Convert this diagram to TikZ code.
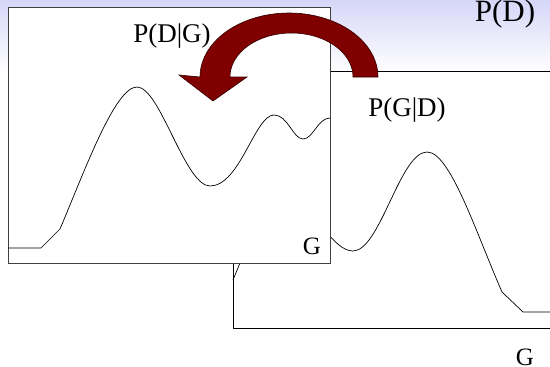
\documentclass[tikz,border=0pt]{standalone}
\usepackage{fontspec}
\setmainfont{Liberation Serif}
\definecolor{bgtop}{RGB}{214,214,248}
\definecolor{darkred}{RGB}{128,0,0}

\begin{document}
\begin{tikzpicture}[
    x=1pt, y=-1pt,
    frame/.style={draw=black!75, fill=white, line width=0.8pt},
    plotline/.style={draw=black, line width=0.7pt, line join=round},
    tag/.style={anchor=base, inner sep=0pt, font=\fontsize{27}{30}\selectfont},
    axislabel/.style={anchor=base, inner sep=0pt, font=\fontsize{25}{28}\selectfont},
    bigarrow/.style={fill=darkred, draw=black!60!darkred, line width=0.6pt, line join=miter}
]
\useasboundingbox (0,0) rectangle (550,367);
\clip (0,0) rectangle (550,367);

% Background
\shade[top color=bgtop, bottom color=white] (0,0) rectangle (550,72);

% Back box: P(G|D)
\draw[frame, draw=black] (233,71) rectangle (560,328);
\draw[plotline] (233,280) -- (240,263)
    .. controls (260,215) and (285,200) .. (300,205)
    .. controls (315,210) and (333,251) .. (353,251)
    .. controls (380,251) and (400,152) .. (427,152)
    .. controls (450,152) and (475,230) .. (502,292)
    -- (523,312) -- (560,312);

% Front box: P(D|G)
\draw[frame] (8,7) rectangle (330,263);
\draw[plotline] (8,248) -- (41,248) -- (60,229)
    .. controls (85,170) and (115,87) .. (137,87)
    .. controls (160,87) and (185,186) .. (210,186)
    .. controls (240,186) and (255,115) .. (274,115)
    .. controls (288,115) and (293,139) .. (303,139)
    .. controls (313,139) and (318,118) .. (330,118);

% Labels
\node[tag, font=\fontsize{31}{34}\selectfont] (pd) at (505,21) {P(D)};
\node[tag] (pdg) at (172,42) {P(D|G)};
\node[tag] (pgd) at (407,116) {P(G|D)};
\node[axislabel] (gfront) at (312,254) {G};
\node[axislabel] (gback) at (525,365) {G};

% Curved arrow
\draw[bigarrow] (378,77)
    -- plot[domain=0:180, samples=60, variable=\t] ({289+89*cos(\t)}, {77-64*sin(\t)})
    -- (179,75) -- (213,101) -- (247,77)
    -- plot[domain=180:0, samples=60, variable=\t] ({291.5+61.5*cos(\t)}, {77-44*sin(\t)})
    -- cycle;

\end{tikzpicture}
\end{document}
